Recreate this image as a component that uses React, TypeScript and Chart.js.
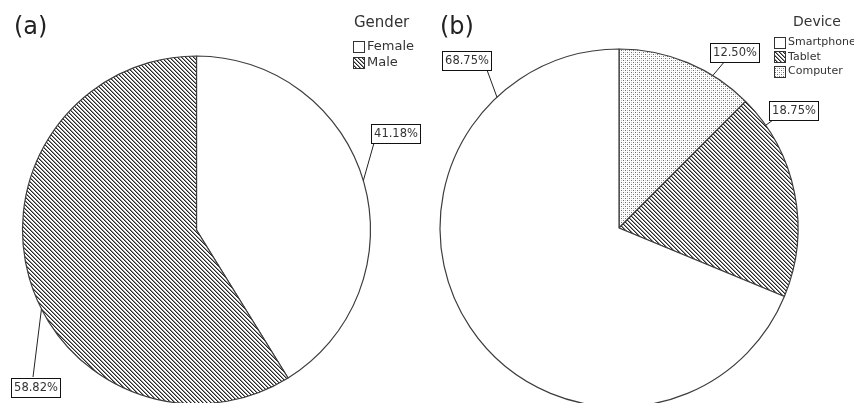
import React, { useEffect, useRef } from "react";
import { Chart, registerables } from "chart.js";

Chart.register(...registerables);

// ---------- data ----------
const genderCategories = ["Female", "Male"];
const genderValues = [41.18, 58.82];

const deviceCategories = ["Smartphone", "Tablet", "Computer"];
const deviceValues = [68.75, 18.75, 12.5];

// ---------- styling / layout ----------
type FillKind = "empty" | "hatch" | "dots";

interface Callout {
  angle: number; // degrees, clockwise from 12 o'clock, where the leader meets the rim
  cx: number; // label box centre (canvas px)
  cy: number;
  ax: number; // leader attach offset from box centre
  ay: number;
}

interface PanelSpec {
  left: number;
  width: number;
  height: number;
  padding: { left: number; right: number; top: number; bottom: number };
  radius: number;
  tag: string;
  tagX: number;
  tagY: number;
  tagSize: number;
  legendTitle: string;
  legendTitleX: number;
  legendTitleY: number;
  legendTitleSize: number;
  legendBoxX: number;
  legendTextX: number;
  legendY0: number;
  legendStep: number;
  legendBox: number;
  legendFontSize: number;
  categories: string[];
  values: number[];
  fills: FillKind[];
  drawOrder: number[];
  callouts: Callout[];
}

const FONT = '"DejaVu Sans", Verdana, sans-serif';

function makeFill(kind: FillKind): string | CanvasPattern {
  if (kind === "empty") return "#ffffff";
  const c = document.createElement("canvas");
  c.width = 4;
  c.height = 4;
  const g = c.getContext("2d")!;
  g.fillStyle = "#ffffff";
  g.fillRect(0, 0, 4, 4);
  if (kind === "hatch") {
    for (let i = 0; i < 4; i++) {
      g.fillStyle = "#262626";
      g.fillRect(i, i, 1, 1);
      g.fillStyle = "#939393";
      g.fillRect((i + 1) % 4, i, 1, 1);
    }
  } else {
    g.fillStyle = "#6e6e6e";
    g.fillRect(0, 0, 1, 1);
    g.fillRect(2, 2, 1, 1);
    g.fillStyle = "#c4c4c4";
    g.fillRect(2, 0, 1, 1);
    g.fillRect(0, 2, 1, 1);
  }
  return g.createPattern(c, "repeat")!;
}

const panelA: PanelSpec = {
  left: 0,
  width: 427,
  height: 460,
  padding: { left: 22, right: 56, top: 55, bottom: 55 },
  radius: 174,
  tag: "(a)",
  tagX: 14,
  tagY: 34,
  tagSize: 24,
  legendTitle: "Gender",
  legendTitleX: 354,
  legendTitleY: 27,
  legendTitleSize: 15,
  legendBoxX: 353,
  legendTextX: 367,
  legendY0: 46,
  legendStep: 16,
  legendBox: 11,
  legendFontSize: 13,
  categories: genderCategories,
  values: genderValues,
  fills: ["empty", "hatch"],
  drawOrder: [0, 1],
  callouts: [
    { angle: 73.5, cx: 395.5, cy: 133, ax: -21.5, ay: 10 },
    { angle: 243, cx: 35.5, cy: 387, ax: -2.5, ay: -10 },
  ],
};

const panelB: PanelSpec = {
  left: 427,
  width: 427,
  height: 460,
  padding: { left: 13, right: 56, top: 49, bottom: 53 },
  radius: 179,
  tag: "(b)",
  tagX: 13,
  tagY: 34,
  tagSize: 24,
  legendTitle: "Device",
  legendTitleX: 366,
  legendTitleY: 26,
  legendTitleSize: 14,
  legendBoxX: 347,
  legendTextX: 361,
  legendY0: 42,
  legendStep: 14.5,
  legendBox: 11,
  legendFontSize: 11,
  categories: deviceCategories,
  values: deviceValues,
  fills: ["empty", "hatch", "dots"],
  drawOrder: [2, 1, 0],
  callouts: [
    { angle: 317, cx: 39, cy: 60, ax: 21, ay: 10 },
    { angle: 55, cx: 366.5, cy: 110, ax: -20.5, ay: 10 },
    { angle: 31.6, cx: 307, cy: 52.5, ax: -9, ay: 8.5 },
  ],
};

function Panel({ spec }: { spec: PanelSpec }) {
  const ref = useRef<HTMLCanvasElement>(null);

  useEffect(() => {
    const canvas = ref.current!;
    const order = spec.drawOrder;
    const fills = spec.fills.map(makeFill);

    const decor = {
      id: "decor",
      afterDraw(chart: any) {
        const ctx: CanvasRenderingContext2D = chart.ctx;
        const meta = chart.getDatasetMeta(0);
        ctx.save();

        // panel tag
        ctx.fillStyle = "#222";
        ctx.textAlign = "left";
        ctx.textBaseline = "alphabetic";
        ctx.font = `${spec.tagSize}px ${FONT}`;
        ctx.fillText(spec.tag, spec.tagX, spec.tagY);

        // legend title
        ctx.font = `${spec.legendTitleSize}px ${FONT}`;
        ctx.fillStyle = "#333";
        ctx.fillText(spec.legendTitle, spec.legendTitleX, spec.legendTitleY);

        // legend items
        spec.categories.forEach((cat, i) => {
          const y = spec.legendY0 + i * spec.legendStep;
          const b = spec.legendBox;
          const bx = Math.round(spec.legendBoxX) + 0.5;
          const by = Math.round(y - b / 2) + 0.5;
          ctx.fillStyle = fills[i] as any;
          ctx.fillRect(bx, by, b, b);
          ctx.strokeStyle = "#333";
          ctx.lineWidth = 1;
          ctx.strokeRect(bx, by, b, b);
          ctx.fillStyle = "#333";
          ctx.font = `${spec.legendFontSize}px ${FONT}`;
          ctx.textBaseline = "middle";
          ctx.fillText(cat, spec.legendTextX, y + 0.5);
        });

        // callouts
        meta.data.forEach((arc: any, j: number) => {
          const ci = order[j];
          const co = spec.callouts[ci];
          const { x, y, outerRadius } = arc.getProps(["x", "y", "outerRadius"], true);
          const a = ((co.angle - 90) * Math.PI) / 180;
          const px = x + outerRadius * Math.cos(a);
          const py = y + outerRadius * Math.sin(a);
          ctx.strokeStyle = "#222";
          ctx.lineWidth = 1;
          ctx.beginPath();
          ctx.moveTo(px, py);
          ctx.lineTo(co.cx + co.ax, co.cy + co.ay);
          ctx.stroke();

          const text = spec.values[ci].toFixed(2) + "%";
          ctx.font = `11.5px ${FONT}`;
          const w = Math.round(ctx.measureText(text).width + 5);
          const h = 19;
          const rx = Math.round(co.cx - w / 2) + 0.5;
          const ry = Math.round(co.cy - h / 2) + 0.5;
          ctx.fillStyle = "#fff";
          ctx.fillRect(rx, ry, w, h);
          ctx.strokeStyle = "#111";
          ctx.strokeRect(rx, ry, w, h);
          ctx.fillStyle = "#333";
          ctx.textAlign = "center";
          ctx.textBaseline = "middle";
          ctx.fillText(text, rx + w / 2, ry + h / 2 + 0.5);
          ctx.textAlign = "left";
        });

        ctx.restore();
      },
    };

    const chart = new Chart(canvas, {
      type: "pie",
      data: {
        labels: order.map((i) => spec.categories[i]),
        datasets: [
          {
            data: order.map((i) => spec.values[i]),
            backgroundColor: order.map((i) => fills[i]) as any,
            borderColor: "#3c3c3c",
            borderWidth: 1.2,
          },
        ],
      },
      options: {
        responsive: false,
        animation: false,
        events: [],
        radius: spec.radius,
        layout: { padding: spec.padding },
        plugins: {
          legend: { display: false },
          tooltip: { enabled: false },
          title: { display: false },
        },
      } as any,
      plugins: [decor],
    });

    return () => chart.destroy();
  }, [spec]);

  return (
    <canvas
      ref={ref}
      width={spec.width}
      height={spec.height}
      style={{ position: "absolute", left: spec.left, top: 0, display: "block" }}
    />
  );
}

export default function App() {
  useEffect(() => {
    document.body.style.margin = "0";
  }, []);
  return (
    <div
      style={{
        position: "relative",
        width: 854,
        height: 403,
        overflow: "hidden",
        background: "#fff",
      }}
    >
      <Panel spec={panelA} />
      <Panel spec={panelB} />
    </div>
  );
}
